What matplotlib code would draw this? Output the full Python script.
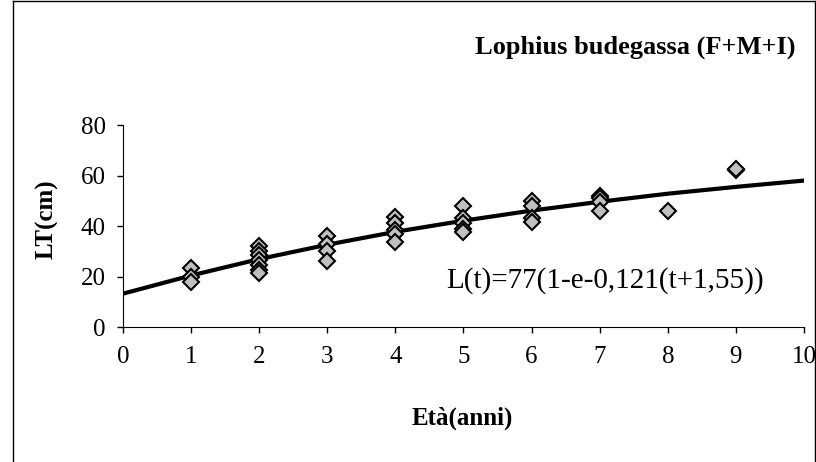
import matplotlib.pyplot as plt
from matplotlib.lines import Line2D

plt.rcParams['font.family'] = ['Liberation Serif', 'DejaVu Serif']

# observed lengths (cm) by age (years)
ages_1 = [23.5, 20, 18]
ages_2 = [32, 30, 28.5, 26.5, 24.5, 22.5, 21.5]
ages_3 = [36, 33, 30, 26]
ages_4 = [43.5, 41, 38.5, 37, 33.5]
ages_5 = [48, 43, 41, 39, 37.7]
ages_6 = [50, 48, 43, 41.5]
ages_7 = [52, 51, 49.5, 46]
ages_8 = [46]
ages_9 = [62, 62.5]
obs = {1: ages_1, 2: ages_2, 3: ages_3, 4: ages_4, 5: ages_5,
       6: ages_6, 7: ages_7, 8: ages_8, 9: ages_9}

# von Bertalanffy curve read at integer ages
curve_t = [0, 1, 2, 3, 4, 5, 6, 7, 8, 9, 10]
curve_L = [13.2, 20.4, 26.9, 32.6, 37.7, 42.1, 46.1, 49.6, 52.8, 55.5, 58.0]

x_ticks = [0, 1, 2, 3, 4, 5, 6, 7, 8, 9, 10]
y_ticks = [0, 20, 40, 60, 80]

fig = plt.figure(figsize=(8.16, 4.62), dpi=100)
ax = fig.add_axes([0.1507, 0.2922, 0.8346, 0.4372])

ax.plot(curve_t, curve_L, color='black', linewidth=3, zorder=2)
for age, vals in obs.items():
    ax.plot([age] * len(vals), vals, linestyle='none', marker='D', markersize=8,
            markerfacecolor='#C0C0C0', markeredgecolor='black', markeredgewidth=1.5,
            zorder=3)

ax.set_xlim(0, 10)
ax.set_ylim(0, 80)
ax.set_xticks(x_ticks)
ax.set_yticks(y_ticks)
ax.tick_params(direction='out', length=4.5, width=1, labelsize=18)
ax.tick_params(axis='x', pad=9)
ax.tick_params(axis='y', pad=8)
ax.spines['top'].set_visible(False)
ax.spines['right'].set_visible(False)
ax.spines['left'].set_bounds(0, 80)

ax.text(4.75, 18.6, 'L(t)=77(1-e-0,121(t+1,55))', fontsize=21, va='center', ha='left')

fig.text(0.975, 0.898, 'Lophius budegassa (F+M+I)', fontsize=19, fontweight='bold',
         ha='right', va='center')
fig.text(0.058, 0.525, 'LT(cm)', fontsize=18, fontweight='bold', rotation=90,
         ha='center', va='center')
fig.text(0.567, 0.095, 'Età(anni)', fontsize=18, fontweight='bold',
         ha='center', va='center')

# outer chart frame
fx0, fx1, fy1 = 13 / 816, 815 / 816, 461 / 462
fig.add_artist(Line2D([fx0, fx0], [0, fy1], color='black', linewidth=1))
fig.add_artist(Line2D([fx0, fx1], [fy1, fy1], color='black', linewidth=1))
fig.add_artist(Line2D([fx1, fx1], [0, fy1], color='black', linewidth=1))

fig.savefig('out.png', dpi=100)
